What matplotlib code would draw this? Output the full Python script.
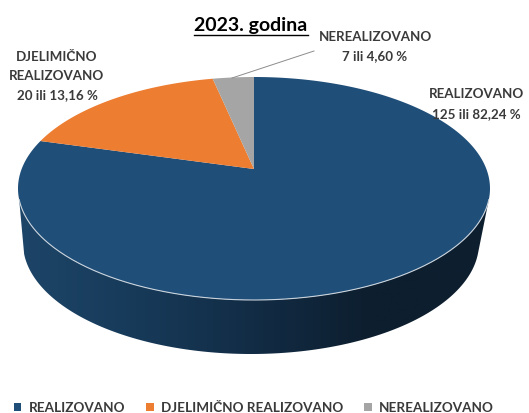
import numpy as np
import matplotlib
matplotlib.use('Agg')
import matplotlib.pyplot as plt
from matplotlib.colors import LinearSegmentedColormap
from matplotlib.patches import Polygon

# slice shares as measured on the drawing, clockwise from the top
categories = ['REALIZOVANO', 'DJELIMIČNO REALIZOVANO', 'NEREALIZOVANO']
shares = [82.0, 15.2, 2.8]
colors = ['#1F4E79', '#ED7D31', '#A5A5A5']
title = '2023. godina'
label_realizovano = 'REALIZOVANO\n125 ili 82,24 %'
label_djelimicno = 'DJELIMIČNO\nREALIZOVANO\n20 ili 13,16 %'
label_nerealizovano = 'NEREALIZOVANO\n7 ili 4,60 %'

plt.rcParams['font.family'] = ['Lato', 'DejaVu Sans']

fig = plt.figure(figsize=(5.29, 4.13), dpi=100)
ax = fig.add_axes([0, 0, 1, 1])
ax.set_xlim(0, 529)
ax.set_ylim(413, 0)
ax.axis('off')

# pie geometry in pixels (perspective: apex sits above the ellipse centre)
cx, cy, rx, ry = 254, 188.5, 236, 111.5
apex = (254, 169)
bx, by, brx, bry = 251, 243, 228, 111


def top_edge(t):
    return cx + rx * np.sin(t), cy - ry * np.cos(t)


# side wall with left-to-right shading
t = np.linspace(np.pi / 2 + 0.1, 3 * np.pi / 2 - 0.1, 200)
xt, yt = top_edge(t)
xb = bx + brx * np.sin(t)
yb = by - bry * np.cos(t)
side_x = np.r_[xt, xb[::-1]]
side_y = np.r_[yt, yb[::-1]]
side_cmap = LinearSegmentedColormap.from_list('side', ['#1D4568', '#173A59', '#122C45', '#0D1E2E', '#0D1F30'])
im = ax.imshow(np.linspace(0, 1, 256).reshape(1, -1), cmap=side_cmap, extent=(18, 490, 354, 190),
               aspect='auto', zorder=1)
im.set_clip_path(Polygon(np.c_[side_x, side_y], transform=ax.transData))
ax.set_xlim(0, 529)
ax.set_ylim(413, 0)

# top face, clockwise from 12 o'clock
handles = []
start = 0
for share, color, name in zip(shares, colors, categories):
    sweep = share / sum(shares) * 2 * np.pi
    a = np.linspace(start, start + sweep, 300)
    ex, ey = top_edge(a)
    p = ax.fill(np.r_[apex[0], ex], np.r_[apex[1], ey], color=color, lw=0, zorder=2, label=name)[0]
    handles.append(p)
    start += sweep

# pale rim on the front edge
rim = np.linspace(np.pi / 2 + 0.1, 3 * np.pi / 2 - 0.1, 200)
ax.plot(*top_edge(rim), color='#C9D3DC', lw=0.8, zorder=3)

# title
ax.text(251, 26, title, ha='center', va='center', fontsize=14, fontweight='bold', color='black', zorder=5)
ax.plot([194, 308], [35, 35], color='black', lw=1, zorder=5)

# data labels
lab = dict(ha='center', va='center', fontsize=9.6, fontweight='bold', color='#3A3A3A', linespacing=1.72, zorder=5)
ax.text(57, 76, label_djelimicno, **lab)
ax.text(375, 46.5, label_nerealizovano, **lab)
ax.text(476, 104, label_realizovano, **lab)
ax.plot([232, 314], [78, 51], color='#8C8C8C', lw=0.7, zorder=4)

ax.legend(handles, categories, loc='center', bbox_to_anchor=(254 / 529, 1 - 407.5 / 413), ncol=3, frameon=False,
          labelcolor='#3A3A3A', prop=dict(family='Lato', weight='bold', size=9.7),
          handlelength=0.55, handleheight=0.55, handletextpad=0.55, columnspacing=1.55, borderpad=0)

fig.savefig('out.png', dpi=100, facecolor='white')
